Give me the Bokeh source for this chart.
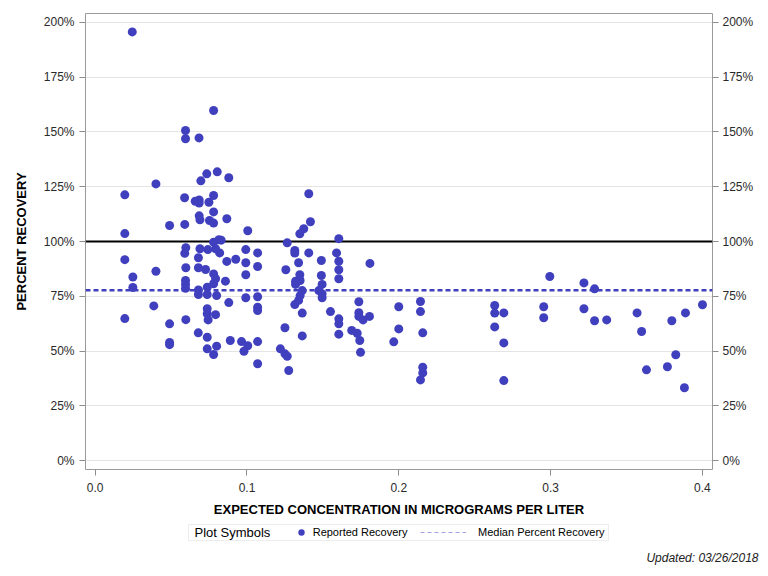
from bokeh.plotting import figure
from bokeh.layouts import column
from bokeh.models import (LinearAxis, FixedTicker, PrintfTickFormatter, Span,
                          Legend, LegendItem, Label, BoxAnnotation, Range1d, Title)
from bokeh.embed import file_html
from bokeh.resources import INLINE

# ---- data ----
conc = [
    0.0195, 0.0195, 0.0195, 0.0195, 0.0244, 0.0248, 0.0248, 0.0400, 0.0400, 0.0386,
    0.0490, 0.0490, 0.0490, 0.0490, 0.0595, 0.0595, 0.0589, 0.0590, 0.0597, 0.0590,
    0.0597, 0.0595, 0.0595, 0.0595, 0.0597, 0.0684, 0.0696, 0.0659, 0.0685, 0.0685,
    0.0685, 0.0690, 0.0690, 0.0680, 0.0680, 0.0680, 0.0680, 0.0679, 0.0735, 0.0749,
    0.0753, 0.0742, 0.0727, 0.0738, 0.0738, 0.0738, 0.0738, 0.0744, 0.0738, 0.0738,
    0.0780, 0.0780, 0.0780, 0.0780, 0.0780, 0.0780, 0.0780, 0.0780, 0.0804, 0.0815,
    0.0830, 0.0793, 0.0793, 0.0800, 0.0800, 0.0793, 0.0820, 0.0858, 0.0867, 0.0867,
    0.0880, 0.0880, 0.0890, 0.0926, 0.0964, 0.0980, 0.0992, 0.0992, 0.0992, 0.0992,
    0.1005, 0.1005, 0.1070, 0.1070, 0.1070, 0.1070, 0.1070, 0.1070, 0.1070, 0.1220,
    0.1250, 0.1256, 0.1250, 0.1265, 0.1265, 0.1275, 0.1315, 0.1315, 0.1315, 0.1320,
    0.1320, 0.1348, 0.1348, 0.1340, 0.1350, 0.1350, 0.1340, 0.1364, 0.1364, 0.1364,
    0.1374, 0.1407, 0.1407, 0.1418, 0.1473, 0.1490, 0.1490, 0.1495, 0.1495, 0.1495,
    0.1550, 0.1590, 0.1605, 0.1605, 0.1605, 0.1605, 0.1605, 0.1605, 0.1605, 0.1690,
    0.1726, 0.1737, 0.1737, 0.1737, 0.1743, 0.1748, 0.1765, 0.1807, 0.1810, 0.1967,
    0.2000, 0.2000, 0.2143, 0.2143, 0.2143, 0.2158, 0.2158, 0.2158, 0.2632, 0.2632,
    0.2632, 0.2692, 0.2692, 0.2692, 0.2955, 0.2955, 0.2995, 0.3220, 0.3220, 0.3290,
    0.3290, 0.3370, 0.3570, 0.3600, 0.3632, 0.3770, 0.3799, 0.3825, 0.3882, 0.3889,
    0.4001,
]
recovery = [
    121.3, 103.6, 91.7, 64.8, 195.7, 83.8, 79.0, 126.3, 86.4, 70.6,
    107.3, 62.4, 53.9, 52.9, 150.7, 146.9, 120.0, 107.8, 97.2, 94.6,
    88.0, 82.2, 80.4, 78.6, 64.3, 147.3, 127.7, 118.4, 119.0, 117.6,
    111.7, 109.9, 96.7, 92.6, 88.0, 77.9, 75.8, 58.3, 130.9, 117.9,
    109.6, 96.3, 87.2, 79.1, 75.8, 69.3, 67.0, 64.2, 56.3, 51.0,
    159.8, 121.0, 113.5, 108.4, 99.7, 85.2, 80.7, 48.4, 131.8, 100.8,
    100.6, 96.7, 83.0, 75.3, 52.2, 66.6, 94.8, 81.9, 110.4, 90.9,
    129.1, 72.1, 54.8, 91.9, 54.3, 49.9, 96.3, 90.3, 84.8, 74.3,
    104.9, 52.4, 94.8, 88.6, 74.8, 70.0, 68.5, 54.3, 44.2, 51.0,
    60.6, 87.1, 48.7, 99.4, 47.6, 41.1, 95.9, 94.7, 71.2, 81.9,
    80.4, 103.5, 84.8, 90.3, 82.2, 75.3, 73.1, 77.6, 67.3, 56.9,
    105.8, 121.8, 94.8, 109.0, 77.6, 91.3, 84.5, 80.4, 76.1, 74.3,
    68.0, 94.8, 101.3, 91.0, 87.1, 83.0, 64.7, 62.4, 57.7, 59.4,
    58.1, 72.5, 67.5, 65.8, 54.8, 49.4, 64.2, 65.8, 90.0, 54.2,
    70.2, 60.1, 72.6, 68.0, 36.8, 58.3, 42.6, 40.0, 70.8, 67.3,
    61.0, 67.4, 53.7, 36.5, 70.2, 65.2, 84.0, 81.1, 69.3, 78.4,
    63.8, 64.2, 67.4, 58.9, 41.4, 42.8, 63.8, 48.3, 33.2, 67.4,
    71.1,
]
median_recovery = 77.7
target_recovery = 100

y_ticks = [0, 25, 50, 75, 100, 125, 150, 175, 200]
x_ticks = [0.0, 0.1, 0.2, 0.3, 0.4]

x_title = "EXPECTED CONCENTRATION IN MICROGRAMS PER LITER"
y_title = "PERCENT RECOVERY"
legend_title = "Plot Symbols"
series_label = "Reported Recovery"
median_label = "Median Percent Recovery"
footnote = "Updated: 03/26/2018"

FONT = "Liberation Sans"
POINT_COLOR = "#4040bf"
W = 768
LEFT, RIGHT = 85, 56

# ---------------- main plot ----------------
p = figure(width=W, height=520, output_backend="svg", toolbar_location=None,
           x_range=Range1d(-0.0064, 0.4067), y_range=Range1d(-4.1, 204.1),
           min_border_left=LEFT, min_border_right=RIGHT, min_border_top=13,
           min_border_bottom=51)
p.background_fill_color = "white"
p.border_fill_color = "white"
p.outline_line_color = "#9a9a9a"
p.outline_line_width = 1

p.xgrid.visible = False
p.ygrid.ticker = FixedTicker(ticks=y_ticks)
p.ygrid.grid_line_color = "#e4e4e4"
p.ygrid.grid_line_width = 1

right_axis = LinearAxis()
p.add_layout(right_axis, "right")

def style_axis(ax, ticks, fmt, standoff):
    ax.ticker = FixedTicker(ticks=ticks)
    ax.formatter = PrintfTickFormatter(format=fmt)
    ax.axis_line_color = None
    ax.major_tick_line_color = "#8c8c8c"
    ax.major_tick_out = 6
    ax.major_tick_in = 0
    ax.minor_tick_line_color = None
    ax.major_label_text_font = FONT
    ax.major_label_text_font_size = "12px"
    ax.major_label_text_color = "#2a2a2a"
    ax.major_label_standoff = standoff
    ax.axis_label_text_font = FONT
    ax.axis_label_text_font_size = "13px"
    ax.axis_label_text_font_style = "bold"
    ax.axis_label_text_color = "black"

style_axis(p.yaxis[0], y_ticks, "%d%%", 5)
style_axis(right_axis, y_ticks, "%d%%", 4)
style_axis(p.xaxis[0], x_ticks, "%.1f", 7)
p.yaxis[0].axis_label = y_title
p.yaxis[0].axis_label_standoff = 12
p.xaxis[0].axis_label = x_title
p.xaxis[0].axis_label_standoff = 7

p.add_layout(Span(location=target_recovery, dimension="width", line_color="black",
                  line_width=2, level="underlay"))
p.add_layout(Span(location=median_recovery, dimension="width", line_color=POINT_COLOR,
                  line_width=2.5, line_dash="5 3", level="underlay"))

p.scatter(conc, recovery, size=9, fill_color=POINT_COLOR, line_color=None)

# ---------------- legend strip + footnote ----------------
# this strip's frame is aligned with the main frame (page x 85..712, page y 520..545),
# so its ranges are set to page pixels for the legend layout
H2 = 56
FRAME_H = 25
q = figure(width=W, height=H2, output_backend="svg", toolbar_location=None,
           x_range=Range1d(LEFT, W - RIGHT), y_range=Range1d(0, FRAME_H),
           x_axis_location=None, y_axis_location=None,
           min_border_left=LEFT, min_border_right=RIGHT, min_border_top=0,
           min_border_bottom=H2 - FRAME_H)
q.grid.visible = False
q.outline_line_color = None
q.background_fill_color = "white"
q.border_fill_color = "white"

q.add_layout(BoxAnnotation(left=188, right=608, bottom=5, top=21,
                           fill_color="white", fill_alpha=1,
                           line_color="#c4c4c4", line_width=1))
q.add_layout(Label(x=194, y=13, text=legend_title, text_baseline="middle",
                   text_font=FONT, text_font_size="13px", text_color="black"))

nan = float("nan")
pts_proxy = q.scatter(x=[nan], y=[nan], size=9, fill_color=POINT_COLOR, line_color=None)
med_proxy = q.line(x=[nan], y=[nan], line_color="#a0a0e4", line_width=1, line_dash="4 3")

common = dict(orientation="horizontal", label_text_font=FONT,
              label_text_font_size="11px", label_text_color="black",
              glyph_height=16, label_height=16, padding=0, margin=0,
              border_line_color=None, background_fill_alpha=0)
leg1 = Legend(items=[LegendItem(label=series_label, renderers=[pts_proxy])],
              location=(290.7 - LEFT, 5), glyph_width=20, label_standoff=2, **common)
leg2 = Legend(items=[LegendItem(label=median_label, renderers=[med_proxy])],
              location=(420 - LEFT, 5), glyph_width=46, label_standoff=12, **common)
q.add_layout(leg1)
q.add_layout(leg2)

q.add_layout(Title(text=footnote, align="right", offset=-46, vertical_align="top",
                   text_font=FONT, text_font_size="12px",
                   text_font_style="italic", text_color="#222222"), "below")

layout = column(p, q, spacing=0)

open("out.html", "w").write(file_html(layout, INLINE))
